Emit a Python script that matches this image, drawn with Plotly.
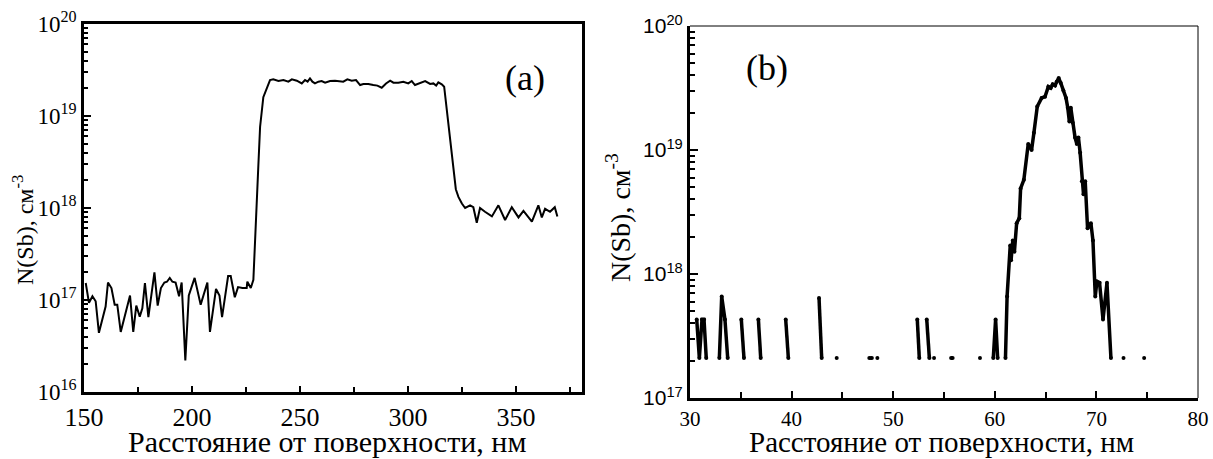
import plotly.graph_objects as go

# ---------------- Panel (a) data ----------------
a_x = [150.8, 152.3, 153.9, 155.4, 156.9, 158.5, 160.0, 161.1, 162.7, 164.2, 165.4, 167.0,
       168.5, 171.3, 172.8, 174.2, 175.8, 177.0, 178.2, 179.8, 182.6, 184.1, 185.6, 187.2,
       188.4, 189.7, 190.9, 192.4, 194.0, 195.2, 196.9, 198.5, 201.2, 204.0, 207.1, 208.3,
       211.1, 212.7, 213.9, 216.7, 217.9, 219.8, 221.3, 223.3, 225.3, 225.6, 227.2, 228.4,
       230.7, 231.5, 233.0, 234.6,
       236.1, 237.6, 240.0, 242.3, 244.6, 246.2, 248.5, 250.8, 252.3, 253.5, 254.6, 255.7,
       256.9, 258.5, 260.0, 261.6, 263.9, 266.2, 268.5, 270.0, 271.9, 273.9, 275.9, 277.8,
       279.3, 281.6, 283.9, 285.8, 287.8, 289.8, 291.7, 293.2, 295.5, 297.8, 300.1, 301.7,
       303.2, 305.6, 307.9, 310.2, 311.7, 313.0, 314.0, 315.6, 316.7,
       322.1, 323.3, 324.9, 326.4, 328.7, 330.2, 331.8, 333.3, 335.6, 338.8, 341.8, 344.9,
       348.0, 351.1, 353.4, 357.3, 360.3, 361.9, 363.4, 365.7, 367.9, 369.1]
a_y = [1.53e17, 9.3e16, 1.10e17, 9.7e16, 4.4e16, 6.3e16, 8.5e16, 1.55e17, 1.35e17, 8.9e16, 8.9e16, 4.5e16,
       6.3e16, 1.12e17, 4.5e16, 8.7e16, 6.6e16, 8.1e16, 1.53e17, 6.5e16, 2.0e17, 8.7e16, 1.35e17, 1.55e17,
       1.58e17, 1.74e17, 1.58e17, 1.55e17, 1.10e17, 1.55e17, 2.2e16, 1.12e17, 1.74e17, 8.9e16, 1.55e17, 4.5e16,
       1.32e17, 1.12e17, 6.5e16, 1.82e17, 1.82e17, 1.07e17, 1.38e17, 1.35e17, 1.35e17, 1.58e17, 1.35e17, 1.66e17,
       2.9e18, 7.6e18, 1.6e19, 2.0e19,
       2.46e19, 2.50e19, 2.40e19, 2.46e19, 2.36e19, 2.50e19, 2.42e19, 2.26e19, 2.46e19, 2.36e19, 2.56e19, 2.36e19,
       2.26e19, 2.36e19, 2.40e19, 2.30e19, 2.40e19, 2.42e19, 2.40e19, 2.36e19, 2.50e19, 2.42e19, 2.46e19, 2.17e19,
       2.23e19, 2.23e19, 2.17e19, 2.14e19, 2.03e19, 2.26e19, 2.42e19, 2.30e19, 2.30e19, 2.36e19, 2.26e19, 2.40e19,
       2.17e19, 2.30e19, 2.40e19, 2.23e19, 2.26e19, 2.14e19, 2.32e19, 2.21e19, 2.08e19,
       1.6e18, 1.32e18, 1.12e18, 1.0e18, 1.07e18, 1.02e18, 6.9e17, 1.0e18, 9.1e17, 8.1e17, 1.07e18, 7.4e17,
       1.02e18, 7.9e17, 9.3e17, 7.1e17, 1.07e18, 7.9e17, 9.8e17, 9.1e17, 1.02e18, 8.1e17]

# ---------------- Panel (b) data (None = zero counts, not shown on log axis) ----------------
b_x = [30.66, 30.92, 31.18, 31.38, 31.60, None,
       32.89, 33.12, 33.44, 33.71, None,
       35.05, 35.31, None,
       36.73, 36.96, None,
       39.42, 39.68, None,
       42.70, 42.96, None,
       44.44, None,
       47.65, 47.90, None,
       48.44, None,
       52.37, 52.57, None,
       53.30, 53.56, None,
       54.02, None,
       55.70, 55.85, None,
       58.54, None,
       59.85, 60.08, 60.28, None,
       61.05, 61.21, 61.52, 61.60, 61.77, 61.93, 62.15, 62.41, 62.54, 62.86, 63.29, 63.62,
       63.85, 64.18, 64.61, 64.94, 65.27, 65.50, 65.70, 65.93, 66.09, 66.29, 66.49, 66.75,
       67.01, 67.18, 67.34, 67.48, 67.67, 67.90, 68.07, 68.23, 68.40, 68.57, 68.73, 68.90,
       69.13, 69.46, 69.66, 69.89, 70.05, 70.31, 70.65, 71.04, 71.43, None,
       72.67, None,
       74.70]
b_y = [4.3e17, 2.1e17, 4.3e17, 4.3e17, 2.1e17, None,
       2.1e17, 6.6e17, 4.3e17, 2.1e17, None,
       4.3e17, 2.1e17, None,
       4.3e17, 2.1e17, None,
       4.3e17, 2.1e17, None,
       6.4e17, 2.1e17, None,
       2.1e17, None,
       2.1e17, 2.1e17, None,
       2.1e17, None,
       4.3e17, 2.1e17, None,
       4.3e17, 2.1e17, None,
       2.1e17, None,
       2.1e17, 2.1e17, None,
       2.1e17, None,
       2.1e17, 4.3e17, 2.1e17, None,
       2.1e17, 6.6e17, 1.7e18, 1.29e18, 1.86e18, 1.51e18, 2.57e18, 2.82e18, 4.9e18, 5.75e18, 1.12e19, 1.0e19,
       1.38e19, 2.24e19, 2.63e19, 2.69e19, 3.24e19, 3.16e19, 3.39e19, 3.31e19, 3.55e19, 3.8e19, 3.47e19, 3.02e19,
       2.63e19, 2.19e19, 1.70e19, 2.19e19, 1.66e19, 1.26e19, 1.12e19, 1.26e19, 9.5e18, 5.6e18, 4.4e18, 5.6e18,
       2.34e18, 2.57e18, 1.86e18, 6.6e17, 8.7e17, 8.5e17, 4.3e17, 8.5e17, 2.1e17, None,
       2.1e17, None,
       2.1e17]

xa_ticks = [150, 200, 250, 300, 350]
xa_minor = [175, 225, 275, 325, 375]
ya_ticks = [1e16, 1e17, 1e18, 1e19, 1e20]
ya_text = ["10<sup>16</sup>", "10<sup>17</sup>", "10<sup>18</sup>", "10<sup>19</sup>", "10<sup>20</sup>"]
xb_ticks = [30, 40, 50, 60, 70, 80]
xb_minor = [35, 45, 55, 65, 75]
yb_ticks = [1e17, 1e18, 1e19, 1e20]
yb_text = ["10<sup>17</sup>", "10<sup>18</sup>", "10<sup>19</sup>", "10<sup>20</sup>"]
ya_minor = [float(k) * 10.0 ** n for n in range(16, 20) for k in range(2, 10)]
yb_minor = [float(k) * 10.0 ** n for n in range(17, 20) for k in range(2, 10)]

x_title = "Расстояние от поверхности, нм"
y_title = "N(Sb), см<sup>-3</sup>"

W, H = 1213, 459
SERIF = "Liberation Serif"
SANS = "Liberation Sans"


def px(x):
    return x / W


def py(y):
    return 1 - y / H


fig = go.Figure()
fig.add_trace(go.Scatter(x=a_x, y=a_y, mode="lines", line=dict(color="black", width=2),
                         xaxis="x", yaxis="y", showlegend=False))
fig.add_trace(go.Scatter(x=b_x, y=b_y, mode="lines+markers", line=dict(color="black", width=3.5),
                         marker=dict(color="black", size=4), connectgaps=False,
                         xaxis="x2", yaxis="y2", showlegend=False))

common = dict(showgrid=False, zeroline=False, showline=True, linecolor="black",
              ticks="inside", tickcolor="black", automargin=False)

fig.update_layout(
    template="none",
    width=W, height=H, margin=dict(l=0, r=0, t=0, b=0, pad=0, autoexpand=False),
    paper_bgcolor="white", plot_bgcolor="white",
    font=dict(family=SERIF, color="black"),
    xaxis=dict(domain=[px(84), px(582)], anchor="y", range=[150, 380.5],
               tickmode="array", tickvals=xa_ticks, ticklen=6, tickwidth=2,
               linewidth=2.5, mirror=True,
               tickfont=dict(family=SERIF, size=26, color="black"),
               minor=dict(tickmode="array", tickvals=xa_minor, ticks="inside", ticklen=5,
                          tickwidth=1.5, tickcolor="black", showgrid=False),
               **common),
    yaxis=dict(domain=[py(392), py(24)], anchor="x", type="log", range=[16, 20],
               tickmode="array", tickvals=ya_ticks, ticktext=ya_text, ticklen=7, tickwidth=2,
               linewidth=2.5, mirror=True,
               tickfont=dict(family=SERIF, size=23, color="black"),
               minor=dict(tickmode="array", tickvals=ya_minor, ticks="inside", ticklen=4,
                          tickwidth=1.5, tickcolor="black", showgrid=False),
               **common),
    xaxis2=dict(domain=[px(690), px(1198)], anchor="y2", range=[30, 80],
                tickmode="array", tickvals=xb_ticks, ticklen=7, tickwidth=2,
                linewidth=3,
                tickfont=dict(family=SERIF, size=21, color="black"),
                minor=dict(tickmode="array", tickvals=xb_minor, ticks="inside", ticklen=6,
                           tickwidth=2, tickcolor="black", showgrid=False),
                **common),
    yaxis2=dict(domain=[py(398), py(26)], anchor="x2", type="log", range=[17, 20],
                tickmode="array", tickvals=yb_ticks, ticktext=yb_text, ticklen=8, tickwidth=2,
                linewidth=3,
                tickfont=dict(family=SANS, size=21, color="black"),
                minor=dict(tickmode="array", tickvals=yb_minor, ticks="inside", ticklen=5,
                           tickwidth=2, tickcolor="black", showgrid=False),
                **common),
    shapes=[
        dict(type="line", xref="x2 domain", yref="y2 domain", x0=0, x1=1, y0=1, y1=1,
             line=dict(color="black", width=1)),
        dict(type="line", xref="x2 domain", yref="y2 domain", x0=1, x1=1, y0=0, y1=1,
             line=dict(color="black", width=1)),
    ],
    annotations=[
        dict(text=x_title, xref="paper", yref="paper", x=px(327), y=0.0, showarrow=False,
             xanchor="center", yanchor="bottom", borderpad=0,
             font=dict(family=SERIF, size=30, color="black")),
        dict(text=x_title, xref="paper", yref="paper", x=px(941), y=0.0, showarrow=False,
             xanchor="center", yanchor="bottom", borderpad=0,
             font=dict(family=SERIF, size=29, color="black")),
        dict(text=y_title, xref="paper", yref="paper", x=px(23), y=py(230), showarrow=False,
             textangle=-90, xanchor="center", yanchor="middle",
             font=dict(family=SERIF, size=24, color="black")),
        dict(text=y_title, xref="paper", yref="paper", x=px(619), y=py(218), showarrow=False,
             textangle=-90, xanchor="center", yanchor="middle",
             font=dict(family=SERIF, size=28, color="black")),
        dict(text="(a)", xref="paper", yref="paper", x=px(525), y=py(78), showarrow=False,
             xanchor="center", yanchor="middle", font=dict(family=SERIF, size=36, color="black")),
        dict(text="(b)", xref="paper", yref="paper", x=px(767), y=py(68), showarrow=False,
             xanchor="center", yanchor="middle", font=dict(family=SERIF, size=36, color="black")),
    ],
)

fig.write_html("out.html")
